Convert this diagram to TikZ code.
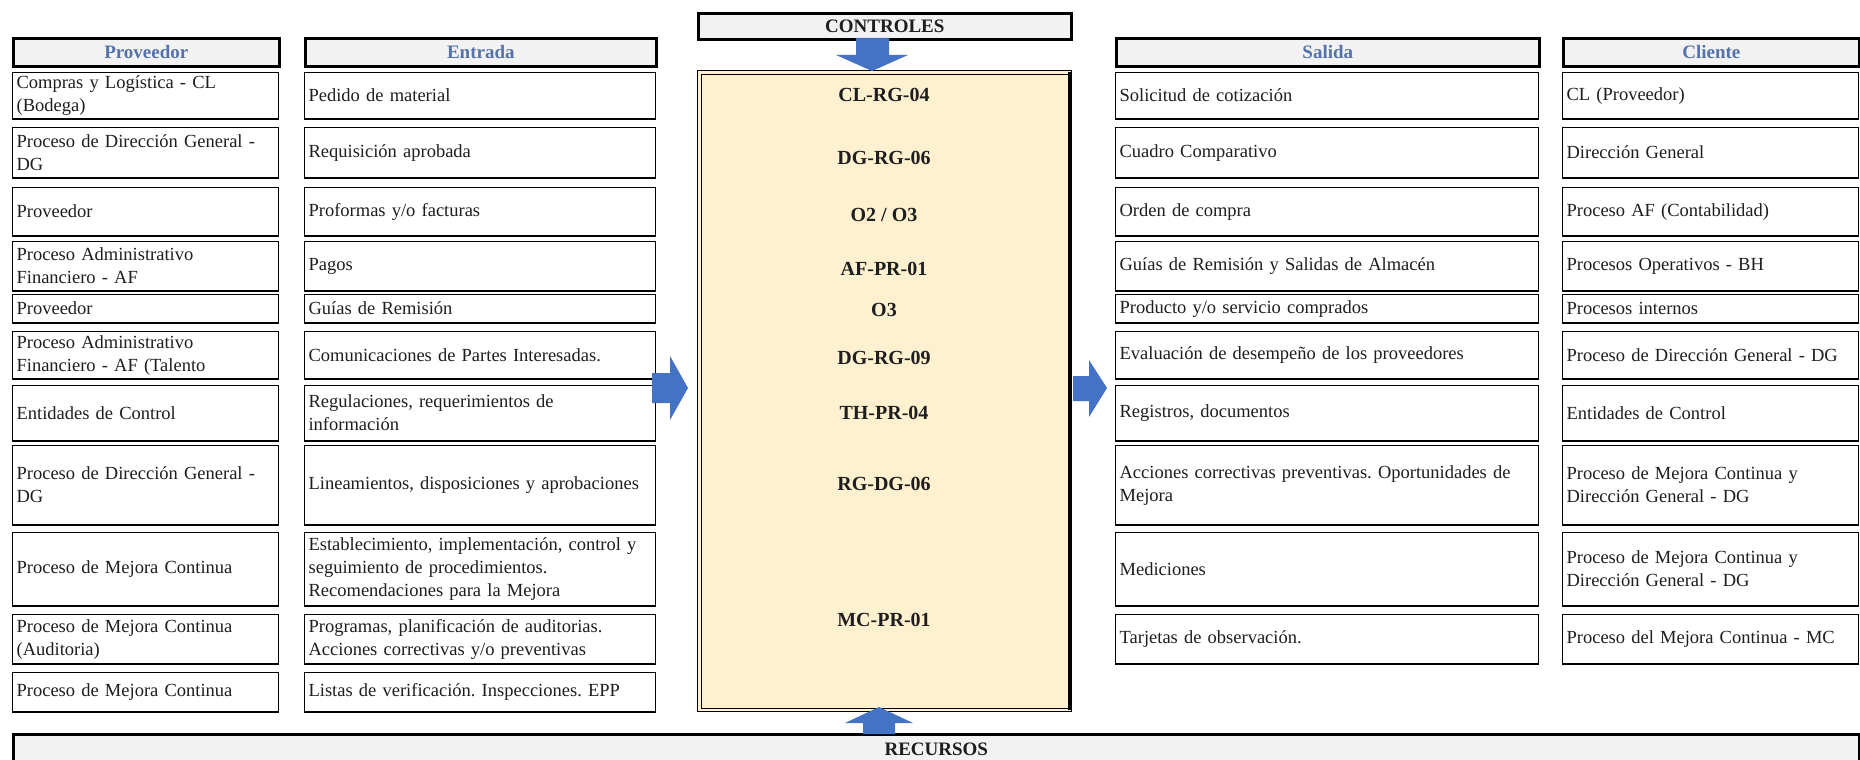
\documentclass[tikz,border=0pt]{standalone}
\usepackage{fontspec}
\setmainfont{Liberation Serif}
\usetikzlibrary{calc}
\definecolor{arrowblue}{RGB}{68,114,196}
\definecolor{hdrblue}{RGB}{86,114,170}
\definecolor{codebg}{RGB}{255,241,208}
\definecolor{hdrbg}{RGB}{242,242,242}
\definecolor{inkc}{RGB}{30,30,30}
\frenchspacing
\begin{document}
\begin{tikzpicture}[x=1pt,y=-1pt,
  cell/.style={draw=black, line width=1.2pt, fill=white, anchor=north west, align=left,
    inner xsep=4pt, inner ysep=0pt, text=inkc, font=\fontsize{18.5}{23}\selectfont},
  colP/.style={text width=258pt},
  colE/.style={text width=343pt},
  colS/.style={text width=415pt},
  colC/.style={text width=288pt},
  hdr/.style={draw=black, line width=2.6pt, fill=hdrbg, anchor=north west, align=center,
    inner xsep=4pt, inner ysep=0pt, minimum height=28pt, text=hdrblue,
    font=\fontsize{19}{23}\selectfont\bfseries},
  code/.style={text=inkc, font=\fontsize{20}{24}\selectfont\bfseries},
  barrow/.style={fill=arrowblue},
  bottomline/.style={line width=2.2pt}
]
\useasboundingbox (0,0) rectangle (1860,760);
\clip (0,0) rectangle (1860,760);

% headers
\node[hdr, colP] (hP) at (12,37) {Proveedor};
\node[hdr, colE] (hE) at (304,37) {Entrada};
\node[hdr, colS] (hS) at (1115,37) {Salida};
\node[hdr, colC] (hC) at (1562,37) {Cliente};
\node[hdr, text=inkc, minimum width=373pt, minimum height=26pt] (hCtrl) at (697,12) {CONTROLES};

% proveedor column
\foreach \i/\yy/\hh/\t in {
 1/72/46/{Compras y Logística - CL\\(Bodega)},
 2/127/50/{Proceso de Dirección General -\\DG},
 3/187/48/{Proveedor},
 4/241/49/{Proceso Administrativo\\Financiero - AF},
 5/294/28/{Proveedor},
 6/331/47/{Proceso Administrativo\\Financiero - AF (Talento},
 7/385/55/{Entidades de Control},
 8/445/79/{Proceso de Dirección General -\\DG},
 9/532/73/{Proceso de Mejora Continua},
 10/614/49/{Proceso de Mejora Continua\\(Auditoria)},
 11/672/39/{Proceso de Mejora Continua}}
 {\node[cell, colP, minimum height=\hh pt] (P\i) at (12,\yy) {\t};
  \draw[bottomline] (P\i.south west) -- (P\i.south east);}

% entrada column
\foreach \i/\yy/\hh/\t in {
 1/72/46/{Pedido de material},
 2/127/50/{Requisición aprobada},
 3/187/48/{Proformas y/o facturas},
 4/241/49/{Pagos},
 5/294/28/{Guías de Remisión},
 6/331/47/{Comunicaciones de Partes Interesadas.},
 7/385/55/{Regulaciones, requerimientos de\\información},
 8/445/79/{Lineamientos, disposiciones y aprobaciones},
 9/532/73/{Establecimiento, implementación, control y\\seguimiento de procedimientos.\\Recomendaciones para la Mejora},
 10/614/49/{Programas, planificación de auditorias.\\Acciones correctivas y/o preventivas},
 11/672/39/{Listas de verificación. Inspecciones. EPP}}
 {\node[cell, colE, minimum height=\hh pt] (E\i) at (304,\yy) {\t};
  \draw[bottomline] (E\i.south west) -- (E\i.south east);}

% salida column
\foreach \i/\yy/\hh/\t in {
 1/72/46/{Solicitud de cotización},
 2/127/50/{Cuadro Comparativo},
 3/187/48/{Orden de compra},
 4/241/49/{Guías de Remisión y Salidas de Almacén},
 5/294/28/{Producto y/o servicio comprados},
 6/331/47/{Evaluación de desempeño de los proveedores},
 7/385/55/{Registros, documentos},
 8/445/79/{Acciones correctivas preventivas. Oportunidades de\\Mejora},
 9/532/73/{Mediciones},
 10/614/49/{Tarjetas de observación.}}
 {\node[cell, colS, minimum height=\hh pt] (S\i) at (1115,\yy) {\t};
  \draw[bottomline] (S\i.south west) -- (S\i.south east);}

% cliente column
\foreach \i/\yy/\hh/\t in {
 1/72/46/{CL (Proveedor)},
 2/127/50/{Dirección General},
 3/187/48/{Proceso AF (Contabilidad)},
 4/241/49/{Procesos Operativos - BH},
 5/294/28/{Procesos internos},
 6/331/47/{Proceso de Dirección General - DG},
 7/385/55/{Entidades de Control},
 8/445/79/{Proceso de Mejora Continua y\\Dirección General - DG},
 9/532/73/{Proceso de Mejora Continua y\\Dirección General - DG},
 10/614/49/{Proceso del Mejora Continua - MC}}
 {\node[cell, colC, minimum height=\hh pt] (C\i) at (1562,\yy) {\t};
  \draw[bottomline] (C\i.south west) -- (C\i.south east);}

% process box
\node[draw=black, line width=1pt, fill=codebg, anchor=north west, minimum width=374pt,
  minimum height=641pt, inner sep=0pt] (proc) at (697,70) {};
\draw[line width=0.8pt] ($(proc.north west)+(4,4)$) rectangle ($(proc.south east)+(-4,-4)$);
\draw[line width=3.5pt] ($(proc.north east)+(-2,2)$) -- ($(proc.south east)+(-2,-2)$);

\foreach \i/\yy/\t in {1/95/{CL-RG-04}, 2/158/{DG-RG-06}, 3/215/{O2 / O3}, 4/269/{AF-PR-01},
  5/310/{O3}, 6/358/{DG-RG-09}, 7/413/{TH-PR-04}, 8/484/{RG-DG-06}, 9/620/{MC-PR-01}}
 {\node[code] (K\i) at (884,\yy) {\t};}

% recursos
\node[hdr, text=inkc, minimum width=1846pt, minimum height=30pt] (hRec) at (12,733) {RECURSOS};

% block arrows
\fill[barrow] (856,38) -- (889,38) -- (889,55) -- (908,55) -- (872,71) -- (836,55) -- (856,55) -- cycle;
\fill[barrow] (863,734) -- (895,734) -- (895,723) -- (913,723) -- (879,707) -- (845,723) -- (863,723) -- cycle;
\fill[barrow] (652,373) -- (670,373) -- (670,356) -- (688,388) -- (670,420) -- (670,403) -- (652,403) -- cycle;
\fill[barrow] (1073,376) -- (1089,376) -- (1089,360) -- (1107,388) -- (1089,417) -- (1089,401) -- (1073,401) -- cycle;
\end{tikzpicture}
\end{document}
